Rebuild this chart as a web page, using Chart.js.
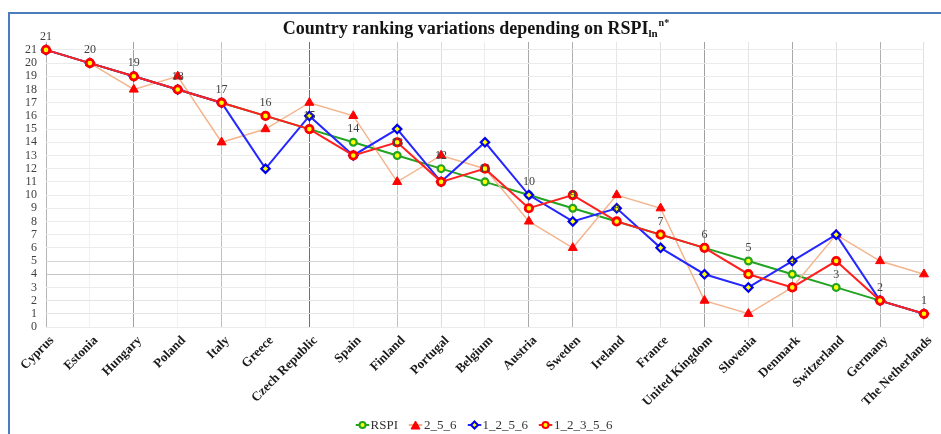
<!DOCTYPE html>
<html>
<head>
<meta charset="utf-8">
<script src="https://cdn.jsdelivr.net/npm/chart.js@4.4.1/dist/chart.umd.min.js"></script>
<style>
  html, body { margin: 0; padding: 0; background: #fff; width: 941px; height: 434px; overflow: hidden; }
  #frame { position: absolute; left: 8px; top: 12px; width: 980px; height: 480px; border: 2px solid #4a7ebb; box-sizing: border-box; }
  #chart { position: absolute; left: 0; top: 0; }
  #title { position: absolute; left: 476px; top: 17px; transform: translateX(-50%); white-space: nowrap;
           font: bold 18px "Liberation Serif", "Times New Roman", serif; color: #141414; }
  #title sub { font-size: 11px; vertical-align: -3px; }
  #title sup { font-size: 10px; vertical-align: 8px; margin-left: 1px; }
  #legend { position: absolute; left: 484px; top: 417px; transform: translateX(-50%); display: flex; gap: 11px;
            white-space: nowrap; font: 13px "Liberation Serif", "Times New Roman", serif; color: #333; }
  #legend .item { display: flex; align-items: center; }
  #legend svg { margin-right: 1px; }
</style>
</head>
<body>
<div id="frame"></div>
<canvas id="chart" width="941" height="434"></canvas>
<div id="title">Country ranking variations depending on RSPI<sub>ln</sub><sup>n*</sup></div>
<div id="legend"></div>
<script>
// Countries ordered by their RSPI rank
const countries = ["Cyprus", "Estonia", "Hungary", "Poland", "Italy", "Greece", "Czech Republic", "Spain",
  "Finland", "Portugal", "Belgium", "Austria", "Sweden", "Ireland", "France", "United Kingdom",
  "Slovenia", "Denmark", "Switzerland", "Germany", "The Netherlands"];

// Rank of each country under the different indicator subsets
const rspi      = [21, 20, 19, 18, 17, 16, 15, 14, 13, 12, 11, 10, 9, 8, 7, 6, 5, 4, 3, 2, 1];
const rank256   = [21, 20, 18, 19, 14, 15, 17, 16, 11, 13, 12, 8, 6, 10, 9, 2, 1, 3, 7, 5, 4];
const rank1256  = [21, 20, 19, 18, 17, 12, 16, 13, 15, 11, 14, 10, 8, 9, 6, 4, 3, 5, 7, 2, 1];
const rank12356 = [21, 20, 19, 18, 17, 16, 15, 13, 14, 11, 12, 9, 10, 8, 7, 6, 4, 3, 5, 2, 1];

// Rank axis ticks
const rankTicks = [0, 1, 2, 3, 4, 5, 6, 7, 8, 9, 10, 11, 12, 13, 14, 15, 16, 17, 18, 19, 20, 21];

const SERIF = '"Liberation Serif", "Times New Roman", serif';

// Vertical grid line tones per category
const vGridTone = ['#b4b4b4', '#f0f0f0', '#a0a0a0', '#f0f0f0', '#c0c0c0', '#f0f0f0', '#707070', '#f0f0f0',
  '#c4c4c4', '#dcdcdc', '#ececec', '#a8a8a8', '#b0b0b0', '#e6e6e6', '#e0e0e0', '#a0a0a0',
  '#e4e4e4', '#a8a8a8', '#e0e0e0', '#b0b0b0', '#e0e0e0'];

const series = [
  { label: 'RSPI', data: rspi, line: '#22a322', border: '#22a322', fill: '#ffff00', style: 'circle', order: 4 },
  { label: '2_5_6', data: rank256, line: '#f4b48c', border: '#ff0000', fill: '#ff0000', style: 'triangle', order: 3 },
  { label: '1_2_5_6', data: rank1256, line: '#2626ff', border: '#0000ee', fill: '#ffff00', style: 'rectRot', order: 2 },
  { label: '1_2_3_5_6', data: rank12356, line: '#ff2020', border: '#ff0000', fill: '#ffff00', style: 'circle', order: 1 }
];

const pointSize = { 'RSPI': [3.4, 2.2], '2_5_6': [5.2, 1], '1_2_5_6': [4.2, 2.2], '1_2_3_5_6': [3.7, 2.8] };

// RSPI value labels above the green series
const rankLabels = {
  id: 'rankLabels',
  afterDatasetsDraw(chart) {
    const meta = chart.getDatasetMeta(0);
    const ctx = chart.ctx;
    ctx.save();
    ctx.font = '12px ' + SERIF;
    ctx.fillStyle = '#404040';
    ctx.textAlign = 'center';
    ctx.textBaseline = 'middle';
    meta.data.forEach((pt, i) => {
      ctx.fillText(String(rspi[i]), pt.x, pt.y - 13);
    });
    ctx.restore();
  }
};

new Chart(document.getElementById('chart'), {
  type: 'line',
  data: {
    labels: countries,
    datasets: series.map(s => ({
      label: s.label,
      data: s.data,
      borderColor: s.line,
      borderWidth: s.label === '2_5_6' ? 1.5 : 2,
      backgroundColor: s.fill,
      pointStyle: s.style,
      pointRadius: pointSize[s.label][0],
      pointBorderWidth: pointSize[s.label][1],
      pointBackgroundColor: s.fill,
      pointBorderColor: s.border,
      tension: 0,
      order: s.order
    }))
  },
  options: {
    responsive: false,
    animation: false,
    devicePixelRatio: 1,
    layout: { padding: { left: 0, right: 4, top: 42, bottom: 0 } },
    plugins: {
      legend: { display: false },
      title: { display: false },
      tooltip: { enabled: false }
    },
    scales: {
      x: {
        type: 'category',
        offset: false,
        border: { display: false },
        grid: {
          drawTicks: false,
          lineWidth: 1,
          color: ctx => vGridTone[ctx.index] || '#e0e0e0'
        },
        ticks: {
          autoSkip: false,
          minRotation: 45,
          maxRotation: 45,
          padding: 6,
          labelOffset: 6,
          color: '#1a1a1a',
          font: { family: SERIF, size: 13, weight: 'bold' }
        },
        afterFit: scale => { scale.height = 107; }
      },
      y: {
        min: 0,
        max: 21.6,
        border: { display: false },
        grid: {
          drawTicks: false,
          color: ctx => {
            const v = ctx.tick && ctx.tick.value;
            if (v === 4) return '#c4c4c4';
            if (v === 5) return '#d4d4d4';
            if (v === 1 || v === 2) return '#e4e4e4';
            return '#ebebeb';
          }
        },
        ticks: {
          autoSkip: false,
          stepSize: 1,
          padding: 9,
          color: '#404040',
          font: { family: SERIF, size: 12 }
        },
        afterBuildTicks: scale => {
          scale.ticks = rankTicks.map(v => ({ value: v }));
        },
        afterFit: scale => { scale.width = 46; }
      }
    }
  },
  plugins: [rankLabels]
});

// Legend with line-and-marker swatches
const legend = document.getElementById('legend');
series.forEach(s => {
  let marker;
  if (s.style === 'triangle') {
    marker = `<polygon points="7,1 11.5,9 2.5,9" fill="${s.fill}" stroke="${s.border}" stroke-width="1"/>`;
  } else if (s.style === 'rectRot') {
    marker = `<polygon points="7,1.5 10.5,5 7,8.5 3.5,5" fill="${s.fill}" stroke="${s.border}" stroke-width="2"/>`;
  } else {
    marker = `<circle cx="7" cy="5" r="3" fill="${s.fill}" stroke="${s.border}" stroke-width="2"/>`;
  }
  const item = document.createElement('div');
  item.className = 'item';
  item.innerHTML = `<svg width="14" height="10" viewBox="0 0 14 10"><line x1="0" y1="5" x2="14" y2="5" stroke="${s.line}" stroke-width="2"/>${marker}</svg><span>${s.label}</span>`;
  legend.appendChild(item);
});
</script>
</body>
</html>
